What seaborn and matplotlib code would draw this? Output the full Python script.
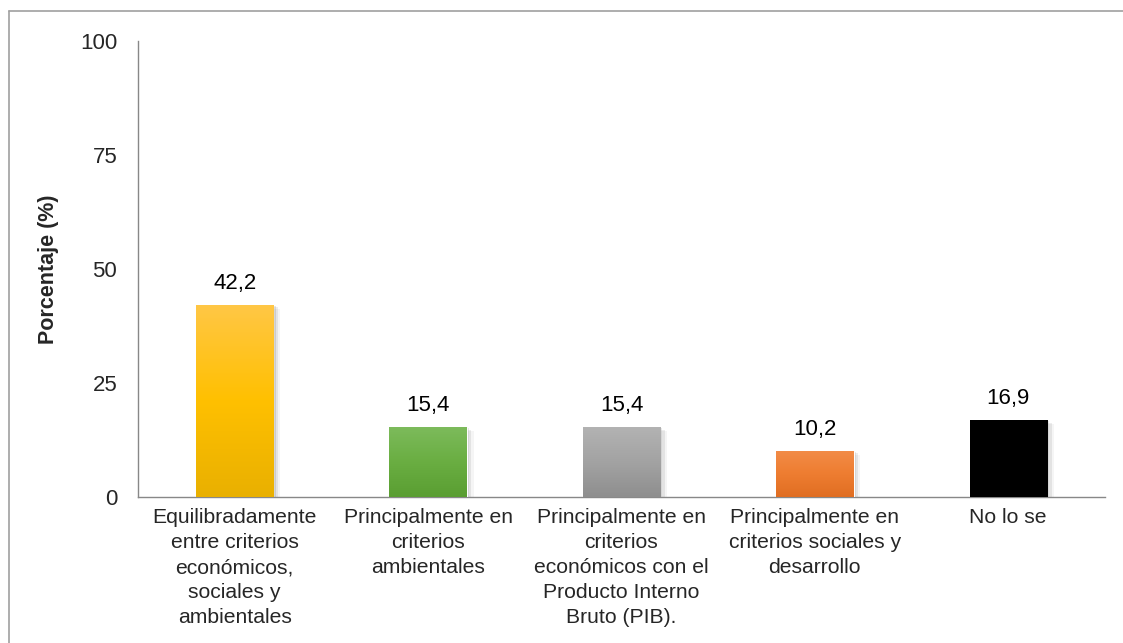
import numpy as np
import pandas as pd
import matplotlib
matplotlib.use("Agg")
import matplotlib.pyplot as plt
from matplotlib.colors import LinearSegmentedColormap
from matplotlib.lines import Line2D
from matplotlib.patches import Rectangle
import seaborn as sns

# ---------------- DATOS ---------------- #
categorias = [
    "Equilibradamente\nentre criterios\neconómicos,\nsociales y\nambientales",
    "Principalmente en\ncriterios\nambientales",
    "Principalmente en\ncriterios\neconómicos con el\nProducto Interno\nBruto (PIB).",
    "Principalmente en\ncriterios sociales y\ndesarrollo",
    "No lo se",
]
porcentajes = [42.2, 15.4, 15.4, 10.2, 16.9]
etiquetas = ["42,2", "15,4", "15,4", "10,2", "16,9"]
yticks = [0, 25, 50, 75, 100]

# colores de cada barra y su degradado (arriba, medio, abajo)
colores = ["#FFC000", "#70AD47", "#A5A5A5", "#ED7D31", "#000000"]
degradados = [
    ["#FFC746", "#FFC000", "#E9B000"],
    ["#7DBB5C", "#6AAE42", "#5A9E32"],
    ["#B3B3B3", "#A3A3A3", "#8E8E8E"],
    ["#F28C48", "#EE7D31", "#E06E22"],
    ["#000000", "#000000", "#000000"],
]

df = pd.DataFrame({"categoria": categorias, "porcentaje": porcentajes})

# ---------------- GRÁFICO ---------------- #
sns.set_style("white")
plt.rcParams["font.family"] = ["Liberation Sans", "DejaVu Sans"]

fig = plt.figure(figsize=(11.23, 6.43), dpi=100)
ax = fig.add_axes([0.1229, 0.227, 0.861, 0.709])

sns.barplot(data=df, x="categoria", y="porcentaje", hue="categoria",
            palette=colores, width=0.40, legend=False, ax=ax, zorder=3)

# degradado vertical y sombra suave para cada barra
for barra, cols in zip(ax.patches, degradados):
    x0, y0 = barra.get_x(), barra.get_y()
    w, h = barra.get_width(), barra.get_height()
    for k, a in enumerate([0.10, 0.07, 0.04]):
        sombra = Rectangle((x0 + 0.012 * (k + 1), y0), w, h - 0.3 * (k + 1),
                           facecolor="#000000", alpha=a, edgecolor="none", zorder=2)
        ax.add_patch(sombra)
    cmap = LinearSegmentedColormap.from_list("g", cols[::-1])
    img = ax.imshow(np.linspace(0, 1, 256).reshape(-1, 1), cmap=cmap,
                    extent=[x0, x0 + w, y0, y0 + h], origin="lower",
                    aspect="auto", zorder=4)
    img.set_clip_path(barra)

ax.set_ylim(0, 100)
ax.set_xlim(-0.5, len(categorias) - 0.5)

for i, (v, t) in enumerate(zip(porcentajes, etiquetas)):
    ax.text(i, v + 2.4, t, ha="center", va="bottom", fontsize=16, color="#000000")

ax.set_yticks(yticks)
ax.set_yticklabels([str(t) for t in yticks], fontsize=16)
ax.set_xticks(range(len(categorias)))
ax.set_xticklabels(categorias, fontsize=15.2, linespacing=1.4)
ax.tick_params(axis="both", length=0, pad=8)
ax.tick_params(axis="y", pad=15)

ax.set_xlabel("")
ax.set_ylabel("Porcentaje (%)", fontsize=15.5, fontweight="bold", labelpad=15)

sns.despine(ax=ax)
for lado in ["left", "bottom"]:
    ax.spines[lado].set_color("#888888")
    ax.spines[lado].set_linewidth(1.0)

# marco del área del gráfico
fig.add_artist(Line2D([0.008, 0.008], [0, 0.983], color="#A0A0A0", lw=1.2))
fig.add_artist(Line2D([0.008, 1.0], [0.983, 0.983], color="#A0A0A0", lw=1.2))

fig.savefig("out.png", dpi=100)
plt.close(fig)
